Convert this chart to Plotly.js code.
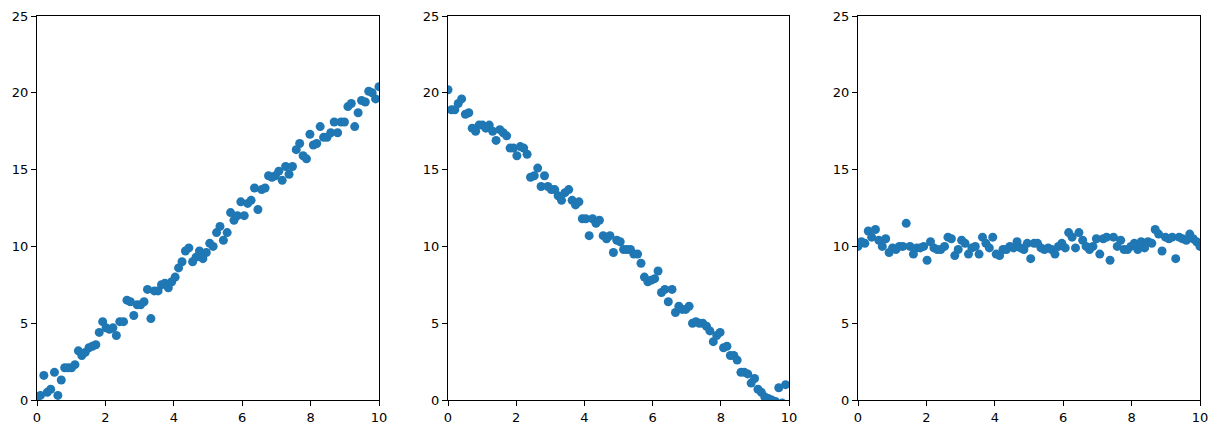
<!DOCTYPE html>
<html>
<head>
<meta charset="utf-8">
<script src="https://cdn.plot.ly/plotly-3.0.1.min.js"></script>
<style>html,body{margin:0;padding:0;background:#fff;}#chart{width:1218px;height:434px;}</style>
</head>
<body>
<div id="chart"></div>
<script>
const xValues = [0, 0.10, 0.20, 0.30, 0.40, 0.51, 0.61, 0.71, 0.81, 0.91, 1.01, 1.11, 1.21, 1.31, 1.41, 1.52, 1.62, 1.72, 1.82, 1.92, 2.02, 2.12, 2.22, 2.32, 2.42, 2.53, 2.63, 2.73, 2.83, 2.93, 3.03, 3.13, 3.23, 3.33, 3.43, 3.54, 3.64, 3.74, 3.84, 3.94, 4.04, 4.14, 4.24, 4.34, 4.44, 4.55, 4.65, 4.75, 4.85, 4.95, 5.05, 5.15, 5.25, 5.35, 5.45, 5.56, 5.66, 5.76, 5.86, 5.96, 6.06, 6.16, 6.26, 6.36, 6.46, 6.57, 6.67, 6.77, 6.87, 6.97, 7.07, 7.17, 7.27, 7.37, 7.47, 7.58, 7.68, 7.78, 7.88, 7.98, 8.08, 8.18, 8.28, 8.38, 8.48, 8.59, 8.69, 8.79, 8.89, 8.99, 9.09, 9.19, 9.29, 9.39, 9.49, 9.60, 9.70, 9.80, 9.90, 10.00];

const yRising = [0.2, 0.3, 1.6, 0.5, 0.7, 1.8, 0.3, 1.3, 2.1, 2.1, 2.1, 2.3, 3.2, 2.9, 3.1, 3.4, 3.5, 3.6, 4.4, 5.1, 4.7, 4.6, 4.7, 4.2, 5.1, 5.1, 6.5, 6.4, 5.5, 6.2, 6.2, 6.4, 7.2, 5.3, 7.1, 7.1, 7.5, 7.6, 7.3, 7.7, 8.0, 8.6, 9.0, 9.7, 9.9, 9.0, 9.3, 9.7, 9.2, 9.6, 10.2, 10.0, 10.9, 11.3, 10.4, 10.9, 12.2, 11.7, 12.0, 12.9, 12.0, 12.8, 13.0, 13.8, 12.4, 13.7, 13.8, 14.6, 14.5, 14.6, 14.9, 14.3, 15.2, 14.7, 15.2, 16.3, 16.7, 15.9, 15.7, 17.3, 16.6, 16.7, 17.8, 17.1, 17.1, 17.4, 18.1, 17.4, 18.1, 18.1, 19.1, 19.3, 17.8, 18.7, 19.5, 19.4, 20.1, 20.0, 19.6, 20.4];

const yFalling = [20.2, 18.9, 18.9, 19.3, 19.6, 18.6, 18.7, 17.7, 17.5, 17.9, 17.9, 17.7, 17.9, 17.5, 16.9, 17.6, 17.4, 17.2, 16.4, 16.4, 15.9, 16.5, 16.4, 16.0, 14.5, 14.6, 15.1, 13.9, 14.6, 13.9, 13.7, 13.7, 13.3, 13.0, 13.5, 13.7, 13.0, 12.7, 12.9, 11.8, 11.8, 10.7, 11.8, 11.5, 11.7, 10.7, 10.5, 10.7, 9.6, 10.4, 10.3, 9.8, 9.8, 9.8, 9.5, 9.5, 8.9, 8.0, 7.7, 7.8, 7.9, 8.4, 7.0, 7.2, 6.4, 7.2, 5.7, 6.1, 5.9, 5.9, 6.1, 5.0, 5.1, 5.0, 5.0, 4.8, 4.5, 3.8, 4.2, 4.4, 3.4, 3.5, 2.9, 2.9, 2.6, 1.8, 1.8, 1.7, 1.1, 1.4, 0.7, 0.5, 0.2, 0.1, 0.0, -0.1, 0.8, -0.2, 1.0, -0.3];

const yFlat = [10.0, 10.3, 10.2, 11.0, 10.6, 11.1, 10.4, 10.0, 10.5, 9.6, 9.9, 9.8, 10.0, 10.0, 11.5, 10.0, 9.5, 9.9, 9.9, 10.0, 9.1, 10.3, 9.9, 9.8, 9.8, 10.0, 10.6, 10.5, 9.4, 9.8, 10.4, 10.2, 9.5, 9.9, 10.0, 9.5, 10.6, 10.2, 9.9, 10.6, 9.5, 9.4, 9.8, 9.8, 10.0, 9.9, 10.3, 9.9, 9.8, 10.2, 9.2, 10.2, 10.2, 9.9, 9.8, 9.9, 9.8, 9.5, 10.0, 10.2, 9.9, 10.9, 10.6, 9.9, 10.9, 10.4, 10.0, 9.8, 10.0, 10.5, 9.5, 10.5, 10.6, 9.1, 10.6, 10.0, 10.4, 9.8, 9.8, 10.0, 10.2, 9.8, 10.3, 9.9, 10.3, 10.2, 11.1, 10.8, 9.7, 10.6, 10.5, 10.6, 9.2, 10.6, 10.5, 10.4, 10.8, 10.5, 10.3, 10.0];

const xTicks = [0, 2, 4, 6, 8, 10];
const yTicks = [0, 5, 10, 15, 20, 25];

const series = [yRising, yFalling, yFlat];
const color = '#1f77b4';

const traces = series.map((ys, i) => ({
  type: 'scatter', mode: 'markers',
  x: xValues, y: ys,
  xaxis: i === 0 ? 'x' : 'x' + (i + 1),
  yaxis: i === 0 ? 'y' : 'y' + (i + 1),
  marker: {color: color, size: 9, line: {width: 0}},
  hoverinfo: 'x+y', showlegend: false
}));

const W = 1218, H = 434;
const xDomains = [[37, 379], [448, 789], [858, 1200]];
const yDom = [(H - 400) / H, (H - 16) / H];

function axisBase() {
  return {
    showline: true, linecolor: '#000', linewidth: 1, mirror: true,
    ticks: 'outside', ticklen: 5, tickwidth: 1, tickcolor: '#000',
    showgrid: false, zeroline: false,
    tickfont: {family: 'DejaVu Sans', size: 13, color: '#000'}
  };
}

const layout = {
  width: W, height: H,
  margin: {l: 0, r: 0, t: 0, b: 0},
  paper_bgcolor: '#fff', plot_bgcolor: '#fff',
  showlegend: false
};

xDomains.forEach((d, i) => {
  const sx = i === 0 ? 'xaxis' : 'xaxis' + (i + 1);
  const sy = i === 0 ? 'yaxis' : 'yaxis' + (i + 1);
  const ax = axisBase();
  ax.domain = [d[0] / W, d[1] / W];
  ax.range = [0, 10];
  ax.tickvals = xTicks;
  ax.ticktext = xTicks.map(String);
  ax.anchor = i === 0 ? 'y' : 'y' + (i + 1);
  const ay = axisBase();
  ay.domain = yDom;
  ay.range = [0, 25];
  ay.tickvals = yTicks;
  ay.ticktext = yTicks.map(String);
  ay.anchor = i === 0 ? 'x' : 'x' + (i + 1);
  layout[sx] = ax;
  layout[sy] = ay;
});

Plotly.newPlot('chart', traces, layout, {displayModeBar: false, responsive: false});
</script>
</body>
</html>
